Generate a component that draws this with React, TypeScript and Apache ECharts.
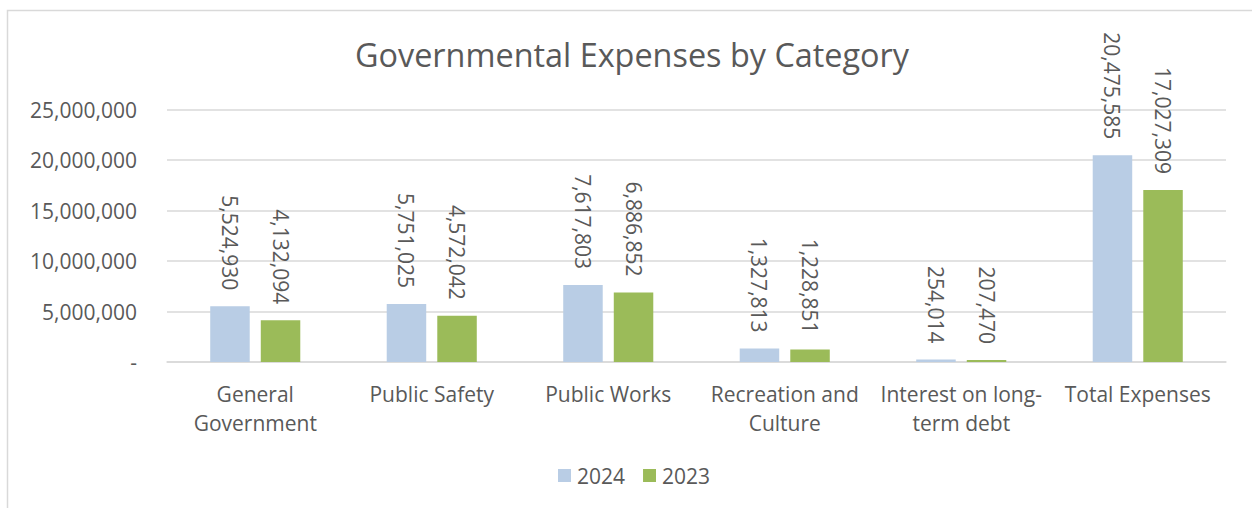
import React, { useEffect, useRef } from "react";
import * as echarts from "echarts";

const categories = [
  "General\nGovernment",
  "Public Safety",
  "Public Works",
  "Recreation and\nCulture",
  "Interest on long-\nterm debt",
  "Total Expenses",
];
const values2024 = [5524930, 5751025, 7617803, 1327813, 254014, 20475585];
const values2023 = [4132094, 4572042, 6886852, 1228851, 207470, 17027309];
const seriesNames = ["2024", "2023"];
const yTicks = { min: 0, max: 25000000, interval: 5000000 };

const FONT = "'Open Sans', sans-serif";
const TEXT = "#595959";
const GRID = "#d9d9d9";

const fmt = (v: number) => (v === 0 ? "-" : v.toLocaleString("en-US"));

export default function App() {
  const ref = useRef<HTMLDivElement>(null);
  useEffect(() => {
    if (!ref.current) return;
    const chart = echarts.init(ref.current, null, { renderer: "svg" });
    const label = {
      show: true,
      position: "top" as const,
      rotate: -90,
      align: "right",
      verticalAlign: "middle",
      distance: 16,
      color: TEXT,
      fontSize: 21,
      fontFamily: FONT,
      formatter: (p: any) => fmt(p.value),
    };
    chart.setOption({
      animation: false,
      textStyle: { fontFamily: FONT },
      title: {
        text: "Governmental Expenses by Category",
        left: 627,
        textAlign: "center",
        top: 33,
        textStyle: { color: TEXT, fontSize: 32.4, fontWeight: "normal", fontFamily: FONT },
      },
      graphic: [
        {
          type: "rect",
          shape: { x: 7.5, y: 10.5, width: 1280, height: 520 },
          style: { fill: "none", stroke: GRID, lineWidth: 1.5 },
          silent: true,
          z: -1,
        },
      ],
      legend: {
        data: seriesNames,
        left: 553,
        top: 460,
        itemWidth: 13,
        itemHeight: 13,
        itemGap: 18,
        icon: "rect",
        textStyle: { color: TEXT, fontSize: 21, fontFamily: FONT, padding: [0, 0, 0, 1] },
      },
      grid: { left: 167, right: 26, top: 109.5, bottom: 146, containLabel: false },
      xAxis: {
        type: "category",
        data: categories,
        axisLine: { lineStyle: { color: GRID, width: 1.5 } },
        axisTick: { show: false },
        axisLabel: {
          color: TEXT,
          fontSize: 21,
          fontFamily: FONT,
          lineHeight: 29,
          margin: 17,
          interval: 0,
        },
      },
      yAxis: {
        type: "value",
        min: yTicks.min,
        max: yTicks.max,
        interval: yTicks.interval,
        axisLine: { show: false },
        axisTick: { show: false },
        splitLine: { lineStyle: { color: GRID, width: 1.5 } },
        axisLabel: {
          color: TEXT,
          fontSize: 21,
          fontFamily: FONT,
          margin: 30,
          formatter: (v: number) => fmt(v),
        },
      },
      series: [
        {
          name: seriesNames[0],
          type: "bar",
          data: values2024,
          barWidth: 39.5,
          barGap: "28%",
          itemStyle: { color: "#B9CDE5" },
          label,
        },
        {
          name: seriesNames[1],
          type: "bar",
          data: values2023,
          barWidth: 39.5,
          barGap: "28%",
          itemStyle: { color: "#9BBB59" },
          label,
        },
      ],
    });
    return () => chart.dispose();
  }, []);
  return (
    <div
      ref={ref}
      style={{ position: "fixed", left: 0, top: 0, width: 1252, height: 508, background: "#fff" }}
    />
  );
}
